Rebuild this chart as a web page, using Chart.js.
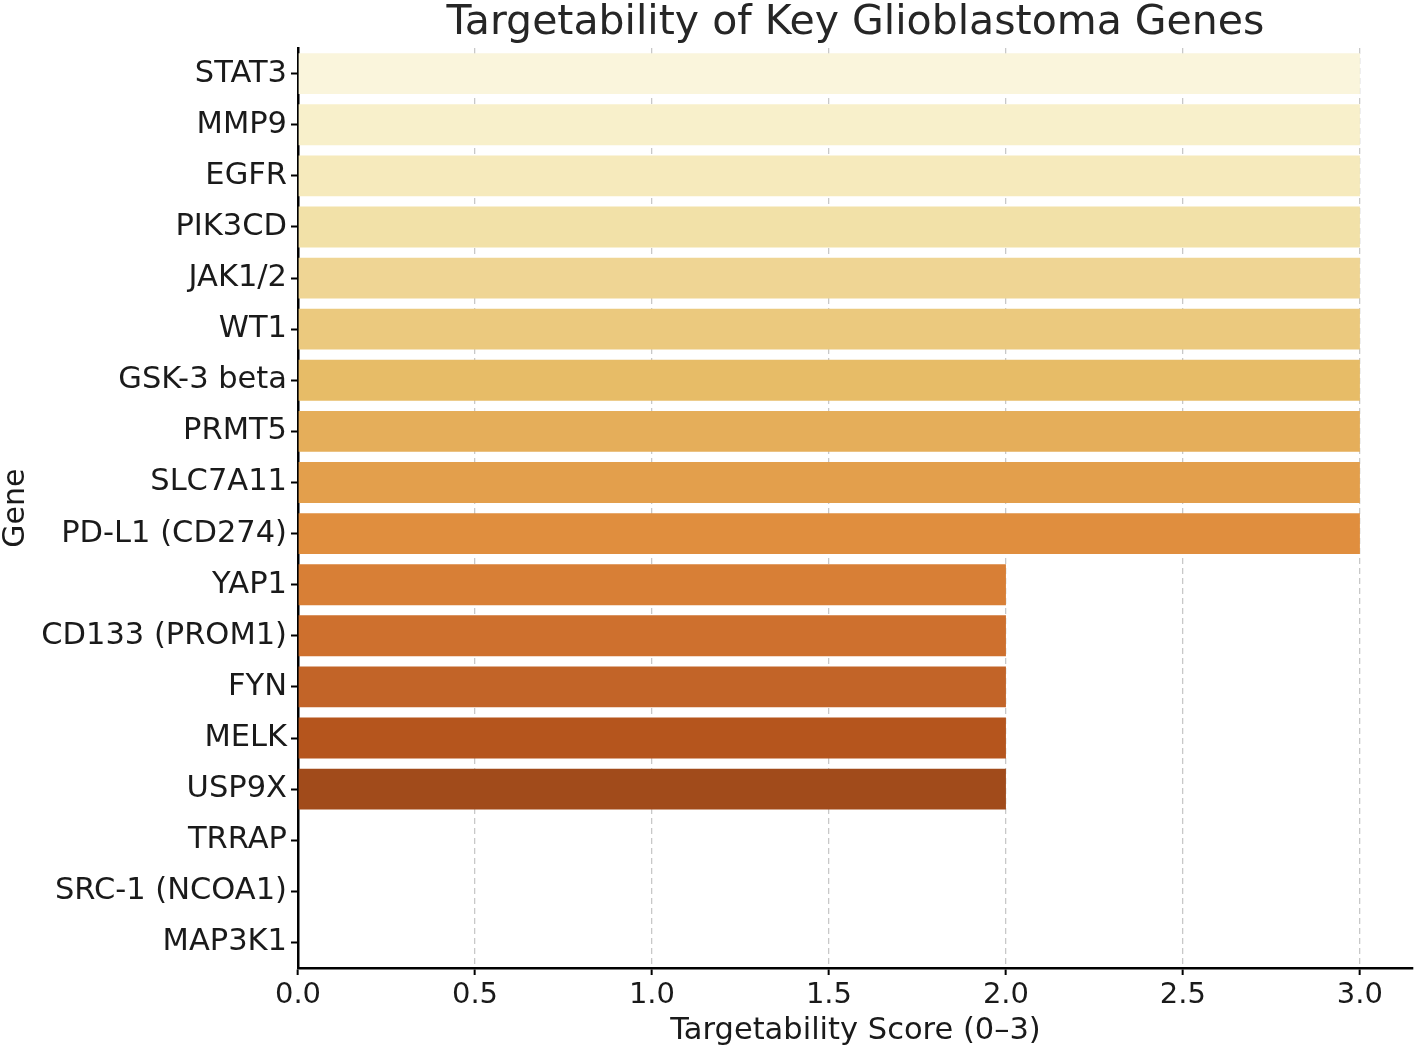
<!DOCTYPE html>
<html>
<head>
<meta charset="utf-8">
<script src="https://cdn.jsdelivr.net/npm/chart.js@4"></script>
<style>
html,body{margin:0;padding:0;background:#fff;}
#wrap{width:1418px;height:1051px;position:relative;}
</style>
</head>
<body>
<div id="wrap"><canvas id="c"></canvas></div>
<script>
const genes = ["STAT3","MMP9","EGFR","PIK3CD","JAK1/2","WT1","GSK-3 beta","PRMT5","SLC7A11","PD-L1 (CD274)","YAP1","CD133 (PROM1)","FYN","MELK","USP9X","TRRAP","SRC-1 (NCOA1)","MAP3K1"];
const scores = [3,3,3,3,3,3,3,3,3,3,2,2,2,2,2,0,0,0];
const barColors = ["#faf5dc","#f8f0cb","#f6eabc","#f2e1a8","#efd594","#ebc97e","#e7bc67","#e5ae5a","#e39f4c","#e08e3e","#d87f36","#ce702e","#c26428","#b5551d","#a14b1b","#8a3f17","#754016","#5e3214"];
const xTicks = [0,0.5,1.0,1.5,2.0,2.5,3.0];
const titleText = "Targetability of Key Glioblastoma Genes";
const xTitle = "Targetability Score (0–3)";
const yTitle = "Gene";

const FONT = "'DejaVu Sans', sans-serif";
const TXT = "#1a1a1a";

new Chart(document.getElementById('c'), {
  type: 'bar',
  data: {
    labels: genes,
    datasets: [{
      data: scores,
      backgroundColor: barColors,
      borderWidth: 0,
      barPercentage: 0.8,
      categoryPercentage: 1.0
    }]
  },
  options: {
    indexAxis: 'y',
    responsive: true,
    maintainAspectRatio: false,
    devicePixelRatio: 1,
    animation: false,
    layout: { padding: { left: 0, right: 5, top: 0, bottom: 0 } },
    plugins: {
      legend: { display: false },
      tooltip: { enabled: false },
      title: {
        display: true,
        text: titleText,
        fullSize: false,
        color: "#262626",
        font: { family: FONT, size: 41, weight: 'normal', lineHeight: 1.1 },
        padding: { top: 1, bottom: 2 }
      }
    },
    scales: {
      x: {
        type: 'linear',
        min: 0,
        max: 3.15,
        z: 1,
        afterBuildTicks: (s) => { s.ticks = xTicks.map(v => ({ value: v })); },
        afterFit: (s) => { s.height = 83; },
        ticks: {
          color: TXT,
          font: { family: FONT, size: 29 },
          padding: 3,
          callback: (v) => Number(v).toFixed(1),
          maxRotation: 0
        },
        grid: {
          display: true,
          drawOnChartArea: true,
          drawTicks: true,
          tickLength: 7,
          tickWidth: 2,
          tickColor: '#000',
          tickBorderDash: [],
          lineWidth: 1.3,
          color: (ctx) => (ctx.tick && ctx.tick.value === 0) ? 'rgba(0,0,0,0)' : '#c8c8c8'
        },
        border: { display: true, color: '#000', width: 2.5, dash: [6, 4] },
        title: {
          display: true,
          text: xTitle,
          color: TXT,
          font: { family: FONT, size: 30.5, lineHeight: 1.2 },
          padding: { top: 0, bottom: 2 }
        }
      },
      y: {
        type: 'category',
        afterFit: (s) => { s.width = 298; },
        ticks: {
          color: TXT,
          font: { family: FONT, size: 30.5 },
          padding: 4,
          autoSkip: false
        },
        grid: {
          display: true,
          drawOnChartArea: false,
          drawTicks: true,
          tickLength: 7,
          tickWidth: 2,
          tickColor: '#000',
          offset: false
        },
        border: { display: true, color: '#000', width: 2.5 },
        title: {
          display: true,
          text: yTitle,
          color: TXT,
          font: { family: FONT, size: 30, lineHeight: 1.1 },
          padding: { top: 0, bottom: 0 }
        }
      }
    }
  }
});
</script>
</body>
</html>
